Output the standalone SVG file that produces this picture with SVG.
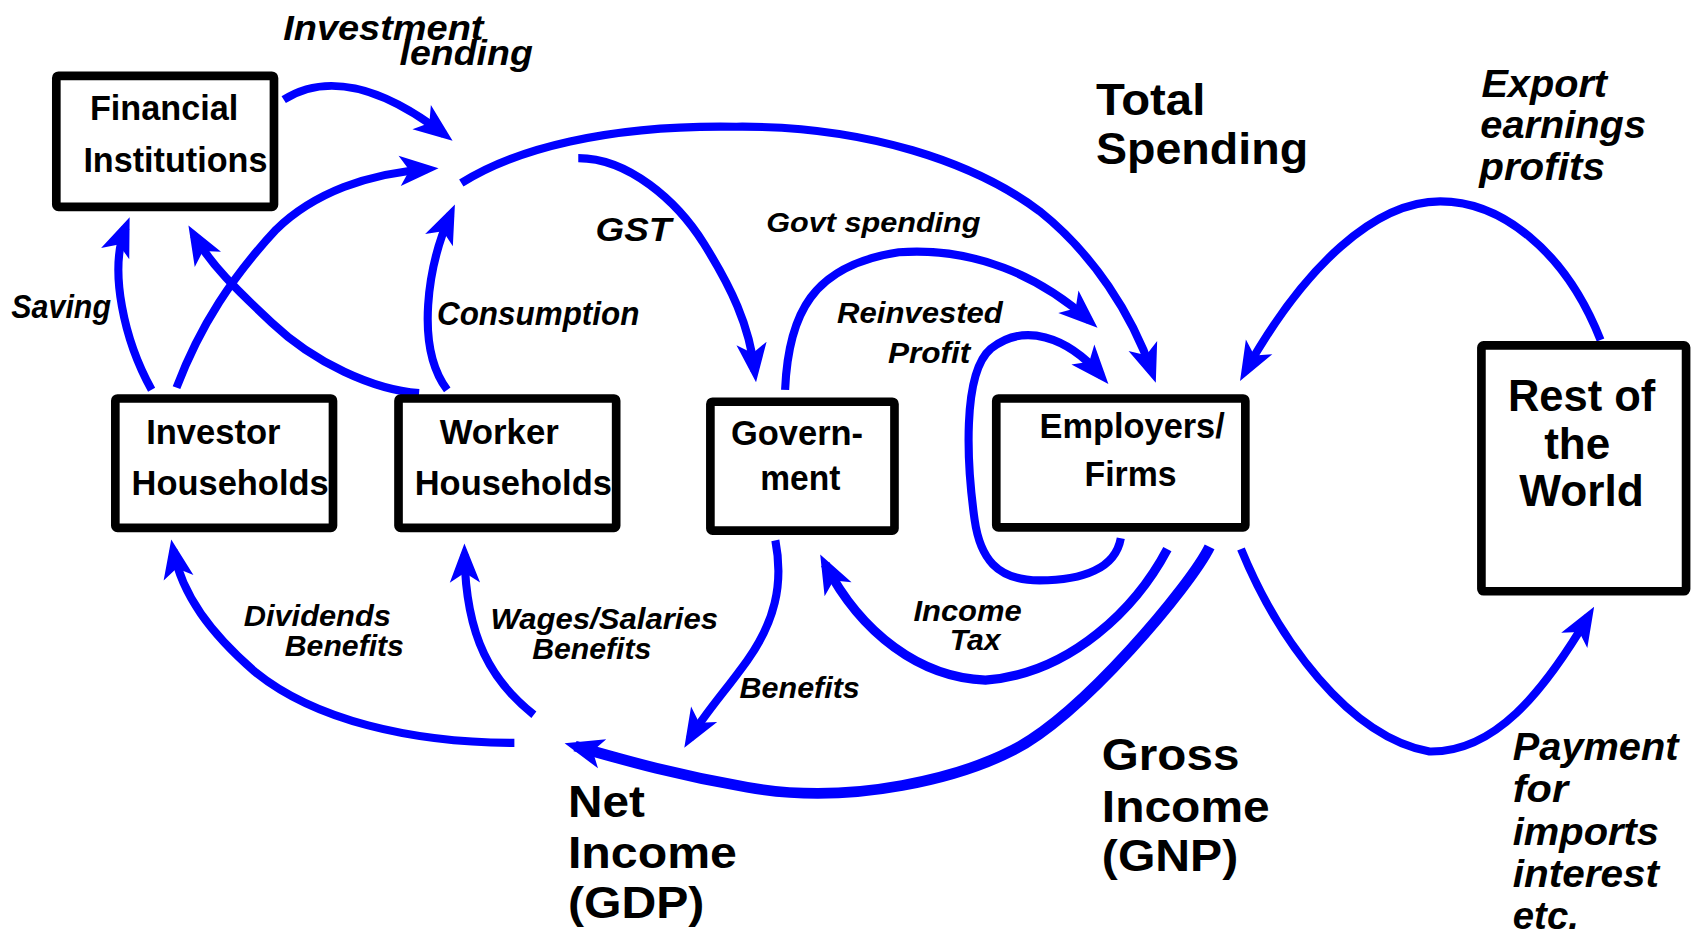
<svg xmlns="http://www.w3.org/2000/svg" width="1698" height="937" viewBox="0 0 1698 937">
<defs>
<style>
.box{fill:#fff;stroke:#000;stroke-width:8;}
.t{font-family:"Liberation Sans",Arial,sans-serif;font-weight:bold;fill:#000;}
.bt{font-size:33px;}
.i{font-style:italic;}
.s{font-size:28px;}
.m{font-size:35px;}
.b{font-size:41px;}
.c{fill:none;stroke:#0000ff;stroke-width:7.5;marker-end:url(#ah);}
</style>
<marker id="ah" markerUnits="userSpaceOnUse" markerWidth="60" markerHeight="40" refX="0" refY="0" orient="auto" overflow="visible">
<path d="M10,0 L-26,-14 L-17,0 L-26,14 Z" fill="#0000ff"/>
</marker>
</defs>
<rect width="1698" height="937" fill="#fff"/>
<g transform="scale(1.0829)">
<g id="connectors">
<path class="c" d="M262,92 C300,68 350,78 410,124"/>
<path class="c" d="M163,358 C185,300 215,255 255,212 C290,178 340,160 395,156"/>
<path class="c" d="M140,360 C115,315 100,250 116,210"/>
<path class="c" d="M387,363 C345,360 290,335 251,298 C228,276 198,250 179,217"/>
<path class="c" d="M413,360 C383,320 395,245 416,198"/>
<path class="c" d="M426,169 C475,138 560,115 680,117 C800,116 900,150 960,195 C1010,235 1045,290 1064,344"/>
<path class="c" d="M534,146 C580,146 625,185 650,225 C675,265 692,300 697,343"/>
<path class="c" d="M725,360 C728,290 750,245 830,233 C900,228 960,255 1006,296"/>
<path class="c" d="M1035,497 C1030,525 1000,536 960,536 C920,536 905,515 900,480 C893,430 888,345 915,322 C945,298 985,310 1017,347"/>
<path class="c" d="M1478,314 C1445,230 1385,186 1330,186 C1270,186 1205,245 1150,343"/>
<path class="c" d="M475,686 C380,686 290,665 235,620 C195,585 168,550 160,508"/>
<path class="c" d="M493,660 C455,630 430,590 429,512"/>
<path class="c" d="M716,499 C724,540 715,575 690,610 C670,638 650,660 637,682"/>
<path class="c" style="stroke-width:8.5" d="M1078,507 C1050,560 990,622 910,628 C850,626 795,585 762,521"/>
<path class="c" style="stroke-width:10" d="M1117,505 C1100,540 1000,660 935,693 C890,716 790,745 690,727 C620,715 570,700 531,689"/>
<path class="c" d="M1146,507 C1180,590 1245,680 1320,694 C1380,695 1425,640 1467,569"/>
</g>
<g id="financial">
<rect class="box" x="52" y="70" width="201" height="121" rx="2"/>
<text class="t bt" x="83" y="111" textLength="137" lengthAdjust="spacingAndGlyphs">Financial</text>
<text class="t bt" x="77" y="159" textLength="170" lengthAdjust="spacingAndGlyphs">Institutions</text>
</g>
<g id="investor">
<rect class="box" x="106.5" y="368" width="201" height="119.5" rx="2"/>
<text class="t bt" x="135" y="410" textLength="124" lengthAdjust="spacingAndGlyphs">Investor</text>
<text class="t bt" x="121.5" y="457.5" textLength="182" lengthAdjust="spacingAndGlyphs">Households</text>
</g>
<g id="worker">
<rect class="box" x="368" y="368" width="201" height="119.5" rx="2"/>
<text class="t bt" x="406" y="410" textLength="110" lengthAdjust="spacingAndGlyphs">Worker</text>
<text class="t bt" x="383" y="457.5" textLength="182" lengthAdjust="spacingAndGlyphs">Households</text>
</g>
<g id="government">
<rect class="box" x="656" y="371" width="170" height="119" rx="2"/>
<text class="t bt" x="675" y="411" textLength="122" lengthAdjust="spacingAndGlyphs">Govern-</text>
<text class="t bt" x="702" y="452.5" textLength="74" lengthAdjust="spacingAndGlyphs">ment</text>
</g>
<g id="employers">
<rect class="box" x="920" y="368" width="230" height="119" rx="2"/>
<text class="t bt" x="960" y="404.5" textLength="171" lengthAdjust="spacingAndGlyphs">Employers/</text>
<text class="t bt" x="1001.5" y="449" textLength="85" lengthAdjust="spacingAndGlyphs">Firms</text>
</g>
<g id="rest-of-world">
<rect class="box" x="1368" y="319" width="189" height="227" rx="2"/>
<text class="t b" x="1392.5" y="379.5" textLength="136" lengthAdjust="spacingAndGlyphs">Rest of</text>
<text class="t b" x="1426" y="423.5" textLength="61" lengthAdjust="spacingAndGlyphs">the</text>
<text class="t b" x="1403" y="467" textLength="115" lengthAdjust="spacingAndGlyphs">World</text>
</g>
<g id="labels">
<text class="t i" style="font-size:33px" x="261.5" y="37" textLength="185" lengthAdjust="spacingAndGlyphs">Investment</text>
<text class="t i" style="font-size:33px" x="369" y="60" textLength="123" lengthAdjust="spacingAndGlyphs">lending</text>
<text class="t i" style="font-size:30px" x="10.5" y="294" textLength="92" lengthAdjust="spacingAndGlyphs">Saving</text>
<text class="t i" style="font-size:30px" x="403.5" y="300" textLength="187" lengthAdjust="spacingAndGlyphs">Consumption</text>
<text class="t i" style="font-size:30px" x="550" y="223" textLength="70" lengthAdjust="spacingAndGlyphs">GST</text>
<text class="t i" style="font-size:26px" x="707.5" y="214.5" textLength="198" lengthAdjust="spacingAndGlyphs">Govt spending</text>
<text class="t i s" x="773" y="298.5" textLength="153" lengthAdjust="spacingAndGlyphs">Reinvested</text>
<text class="t i s" x="820" y="335.5" textLength="76" lengthAdjust="spacingAndGlyphs">Profit</text>
<text class="t b" x="1012" y="106" textLength="101" lengthAdjust="spacingAndGlyphs">Total</text>
<text class="t b" x="1012" y="151.5" textLength="196" lengthAdjust="spacingAndGlyphs">Spending</text>
<text class="t i m" x="1368" y="89.5" textLength="116" lengthAdjust="spacingAndGlyphs">Export</text>
<text class="t i m" x="1367" y="127.5" textLength="153" lengthAdjust="spacingAndGlyphs">earnings</text>
<text class="t i m" x="1366" y="166" textLength="116" lengthAdjust="spacingAndGlyphs">profits</text>
<text class="t i s" x="225" y="578" textLength="136" lengthAdjust="spacingAndGlyphs">Dividends</text>
<text class="t i s" x="263" y="606" textLength="110" lengthAdjust="spacingAndGlyphs">Benefits</text>
<text class="t i s" x="453" y="581" textLength="210" lengthAdjust="spacingAndGlyphs">Wages/Salaries</text>
<text class="t i s" x="491.5" y="608.5" textLength="110" lengthAdjust="spacingAndGlyphs">Benefits</text>
<text class="t i s" x="683" y="645" textLength="111" lengthAdjust="spacingAndGlyphs">Benefits</text>
<text class="t i s" x="843.5" y="573.5" textLength="100" lengthAdjust="spacingAndGlyphs">Income</text>
<text class="t i s" x="877" y="600.5" textLength="47" lengthAdjust="spacingAndGlyphs">Tax</text>
<text class="t b" x="524.5" y="754" textLength="71" lengthAdjust="spacingAndGlyphs">Net</text>
<text class="t b" x="524.5" y="802" textLength="156" lengthAdjust="spacingAndGlyphs">Income</text>
<text class="t b" x="524.5" y="848" textLength="126" lengthAdjust="spacingAndGlyphs">(GDP)</text>
<text class="t b" x="1017.5" y="711" textLength="127" lengthAdjust="spacingAndGlyphs">Gross</text>
<text class="t b" x="1017.5" y="759" textLength="155" lengthAdjust="spacingAndGlyphs">Income</text>
<text class="t b" x="1017.5" y="804.5" textLength="126" lengthAdjust="spacingAndGlyphs">(GNP)</text>
<text class="t i m" x="1397" y="702" textLength="153" lengthAdjust="spacingAndGlyphs">Payment</text>
<text class="t i m" x="1397" y="741" textLength="51" lengthAdjust="spacingAndGlyphs">for</text>
<text class="t i m" x="1397" y="780" textLength="135" lengthAdjust="spacingAndGlyphs">imports</text>
<text class="t i m" x="1397" y="819" textLength="135" lengthAdjust="spacingAndGlyphs">interest</text>
<text class="t i m" x="1397" y="858" textLength="61" lengthAdjust="spacingAndGlyphs">etc.</text>
</g>
</g>
</svg>
